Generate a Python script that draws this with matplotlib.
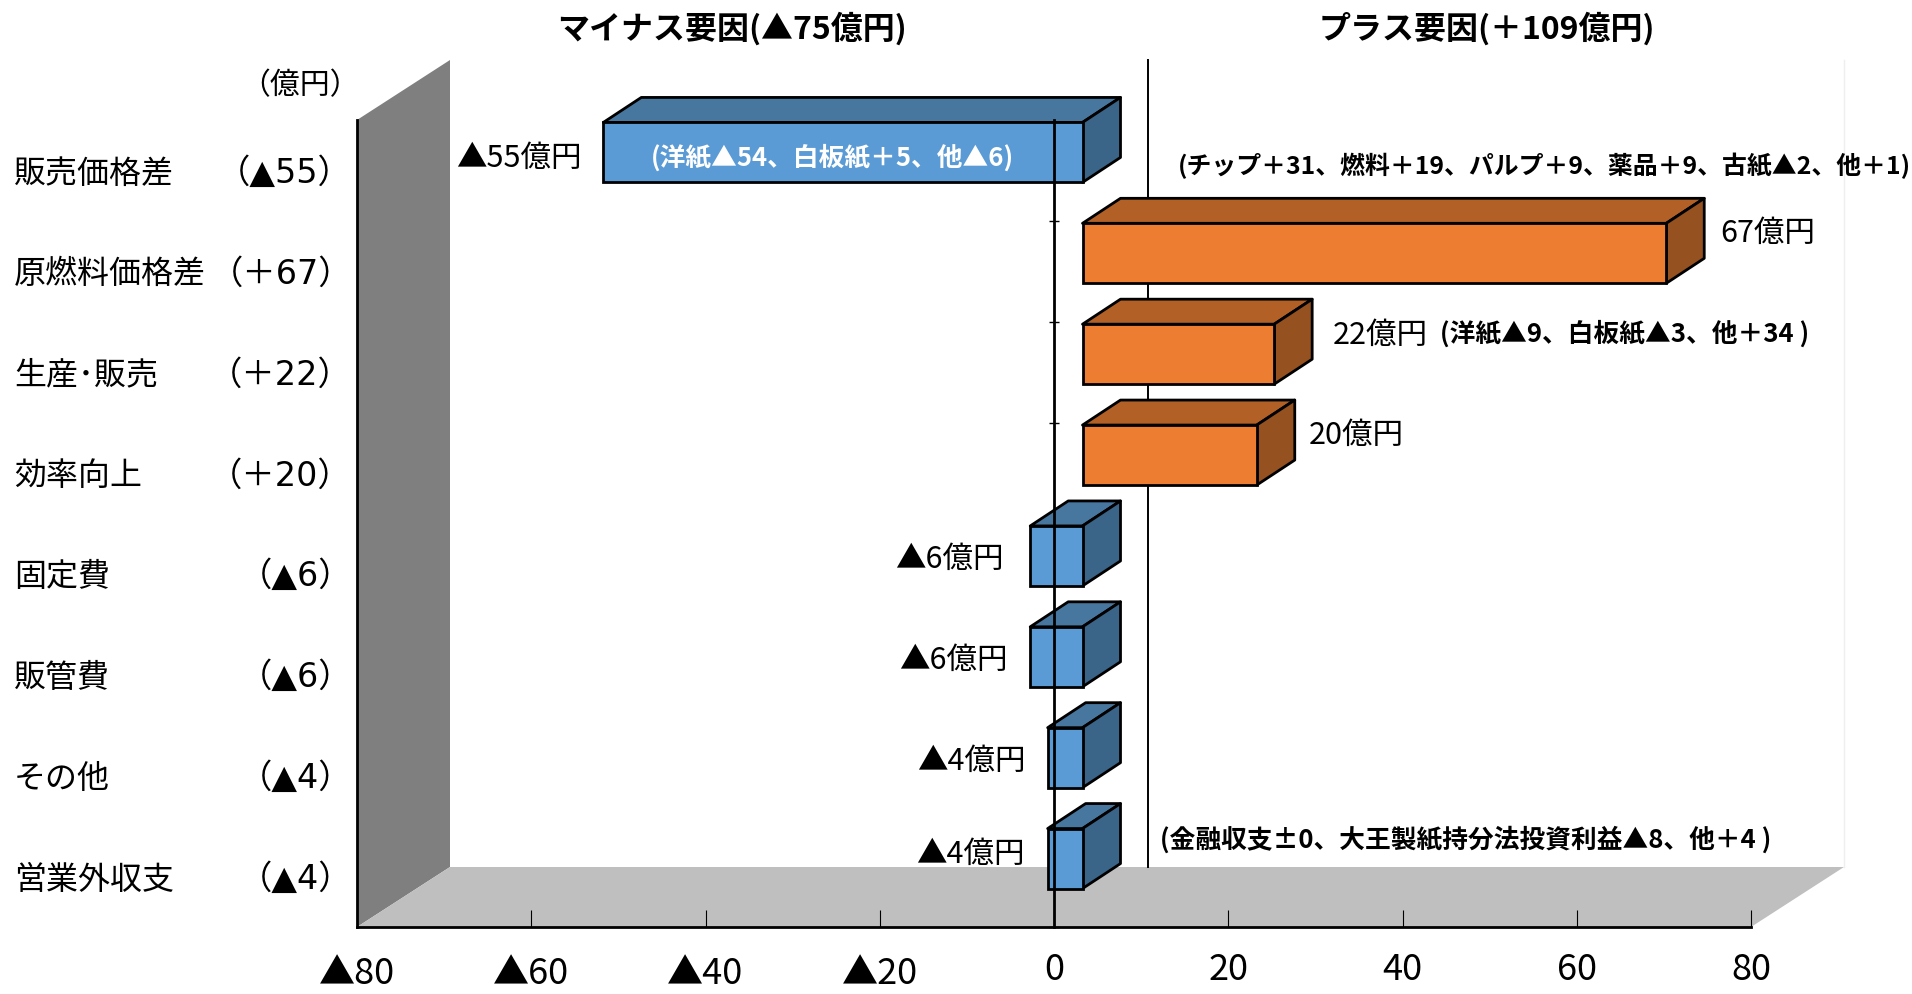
import matplotlib
matplotlib.use("Agg")
import matplotlib.pyplot as plt
from matplotlib.patches import Polygon

plt.rcParams['font.family'] = ['Noto Sans CJK JP', 'DejaVu Sans']

W, H = 1912, 994

# Profit variance factors, in 億円
categories = ['販売価格差', '原燃料価格差', '生産･販売', '効率向上', '固定費', '販管費', 'その他', '営業外収支']
values = [-55, 67, 22, 20, -6, -6, -4, -4]
value_texts = ['（▲55）', '（＋67）', '（＋22）', '（＋20）', '（▲6）', '（▲6）', '（▲4）', '（▲4）']
x_ticks = [-80, -60, -40, -20, 0, 20, 40, 60, 80]
x_tick_labels = ['▲80', '▲60', '▲40', '▲20', '0', '20', '40', '60', '80']

# Label centres in figure pixels
label_pos = [(519, 158), (1768, 233), (1380, 335), (1356, 435), (949, 559), (953, 660), (971, 761), (970, 854)]

BLUE = ('#5B9BD5', '#47779F', '#3A6488')
ORANGE = ('#ED7D31', '#B36026', '#95511F')

fig = plt.figure(figsize=(W / 100, H / 100), dpi=100, facecolor='white')
ax = fig.add_axes([357 / W, 1 - 927 / H, 1394 / W, 807 / H])
ax.set_facecolor('none')
ax.set_xlim(-80, 80)
ax.set_ylim(8, 0)

# Depth of the 3-D box and of the bars, in data units
UX = 1394 / 160
UY = 807 / 8
DX, DY = 93 / UX, 60 / UY
BX, BY = 38 / UX, 25 / UY
SX, SY = 28.5 / UX, 18 / UY
BAR_H = 60 / UY

ax.add_patch(Polygon([(-80, 8), (-80, 0), (-80 + DX, -DY), (-80 + DX, 8 - DY)],
                     fc='#7F7F7F', ec='none', clip_on=False, zorder=1))
ax.add_patch(Polygon([(-80, 8), (-80 + DX, 8 - DY), (80 + DX, 8 - DY), (80, 8)],
                     fc='#BFBFBF', ec='none', clip_on=False, zorder=1))
ax.plot([80 + DX, 80 + DX], [-DY, 8 - DY], color='#EFEFEF', lw=1, clip_on=False, zorder=1)
ax.plot([DX + 0.1, DX + 0.1], [-DY, 8 - DY], color='black', lw=1.4, clip_on=False, zorder=1.2)
ax.plot([-80, -80], [0, 8], color='black', lw=2, clip_on=False, zorder=3)

# Bars with their top and end faces
for i, v in enumerate(values):
    front, top, side = BLUE if v < 0 else ORANGE
    y0 = i + 0.5 - SY - BAR_H / 2
    y1 = y0 + BAR_H
    x0, x1 = sorted((SX, SX + v))
    style = dict(ec='black', lw=2, joinstyle='round', clip_on=False, zorder=2)
    ax.add_patch(Polygon([(x0, y0), (x0 + BX, y0 - BY), (x1 + BX, y0 - BY), (x1, y0)], fc=top, **style))
    ax.add_patch(Polygon([(x1, y0), (x1 + BX, y0 - BY), (x1 + BX, y1 - BY), (x1, y1)], fc=side, **style))
    ax.barh(i + 0.5 - SY, v, left=SX, height=BAR_H, color=front, edgecolor='black',
            linewidth=2, clip_on=False, zorder=2)

# Axes: the vertical axis crosses at zero
for name in ('top', 'right'):
    ax.spines[name].set_visible(False)
ax.spines['left'].set_position(('data', 0))
ax.spines['left'].set_linewidth(2)
ax.spines['bottom'].set_linewidth(2)
ax.set_yticks(range(9))
ax.set_yticklabels([])
ax.tick_params(axis='y', direction='inout', length=7, width=1)
ax.set_xticks(x_ticks)
ax.set_xticklabels(x_tick_labels, fontsize=26)
ax.tick_params(axis='x', direction='in', length=12, width=0.8)
for tick, value in zip(ax.xaxis.get_major_ticks(), x_ticks):
    tick.set_pad(21 if value < 0 else 18)

# Row labels left of the chart
trans = ax.get_yaxis_transform()
for i, (name, text) in enumerate(zip(categories, value_texts)):
    ax.annotate(name, xy=(0, i + 0.5), xycoords=trans, xytext=(-343, -3), textcoords='offset pixels',
                ha='left', va='center', fontsize=23, annotation_clip=False)
    ax.annotate(text, xy=(0, i + 0.5), xycoords=trans, xytext=(-5, -3), textcoords='offset pixels',
                ha='right', va='center', fontsize=24, family=['DejaVu Sans', 'Noto Sans CJK JP'],
                annotation_clip=False)


def put(px, py, text, **kw):
    fig.text(px / W, 1 - py / H, text, ha='center', va='center', zorder=5, **kw)


put(732, 29, 'マイナス要因(▲75億円)', fontsize=23, fontweight='bold')
put(1487, 29, 'プラス要因(＋109億円)', fontsize=23, fontweight='bold')
put(300, 86, '（億円）', fontsize=21.5)

# Value labels
for (px, py), v in zip(label_pos, values):
    put(px, py, f'▲{abs(v)}億円' if v < 0 else f'{v}億円', fontsize=22)

# Breakdown notes
put(832, 158, '(洋紙▲54、白板紙＋5、他▲6)', fontsize=18.5, fontweight='bold', color='white')
put(1544, 166, '(チップ＋31、燃料＋19、パルプ＋9、薬品＋9、古紙▲2、他＋1)', fontsize=17.9, fontweight='bold')
put(1625, 334, '(洋紙▲9、白板紙▲3、他＋34 )', fontsize=18.5, fontweight='bold')
put(1466, 840, '(金融収支±0、大王製紙持分法投資利益▲8、他＋4 )', fontsize=18.5, fontweight='bold')

fig.savefig('out.png', dpi=100, facecolor='white')
